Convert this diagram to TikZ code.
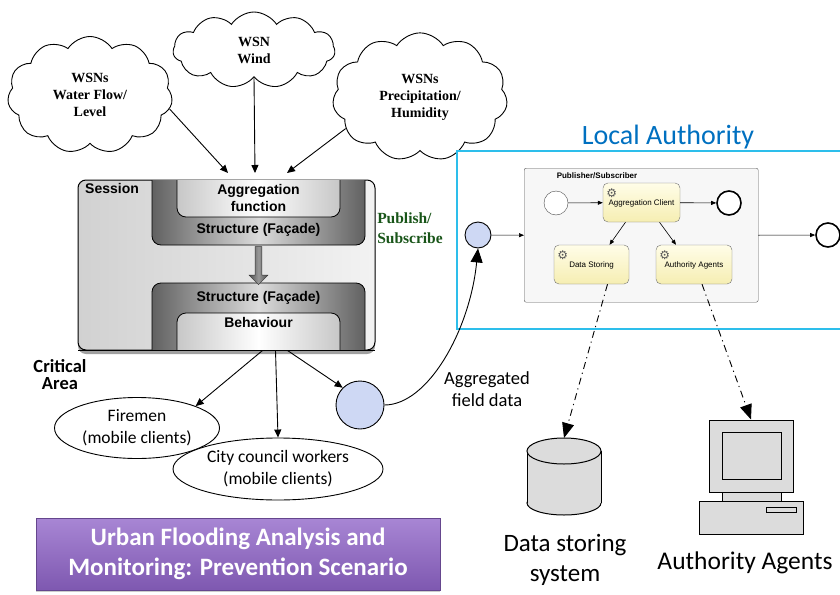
\documentclass[tikz,border=0pt]{standalone}
\usepackage{fontspec}
\setmainfont{Liberation Serif}
\newfontfamily\calibri{Carlito}
\newfontfamily\helv{Liberation Sans}
\newfontfamily\gearfont{DejaVu Sans}
\usetikzlibrary{shapes.symbols,shapes.geometric,shapes.arrows,arrows.meta,shadows}

\definecolor{pubgreen}{RGB}{25,85,25}
\definecolor{authblue}{RGB}{0,112,192}
\definecolor{authline}{RGB}{45,190,235}
\definecolor{dropblue}{RGB}{206,216,244}
\definecolor{tasktop}{RGB}{255,253,232}
\definecolor{taskbot}{RGB}{246,238,178}
\definecolor{purpletop}{RGB}{168,134,212}
\definecolor{purplebot}{RGB}{126,88,176}
\definecolor{pcgray}{RGB}{220,220,220}

\newcommand\taskgear{{\gearfont\symbol{"2699}}}

\begin{document}
\begin{tikzpicture}[x=1pt,y=-1pt,>={Triangle[length=8pt,width=7pt]}]

\tikzset{wsn/.style={cloud,cloud puffs=11,cloud puff arc=115,draw,line width=0.9pt,fill=white,
    inner sep=0pt,align=center,font=\bfseries\fontsize{14}{17}\selectfont}}
\tikzset{session/.style={draw,line width=1pt,rounded corners=8pt,left color=black!18,right color=black!5,
    drop shadow={shadow xshift=0pt,shadow yshift=-4pt,opacity=0.75}}}
\tikzset{struct/.style={draw,line width=0.8pt,left color=black!62,right color=black!62,middle color=black!14}}
\tikzset{inner/.style={draw,line width=0.8pt,left color=black!22,right color=black!22,middle color=white}}
\tikzset{label/.style={font=\helv\bfseries\fontsize{14}{17}\selectfont,align=center,inner sep=0pt}}
\tikzset{client/.style={ellipse,draw,line width=0.9pt,fill=white,align=center,
    font=\calibri\fontsize{17.5}{22}\selectfont}}
\tikzset{msg/.style={circle,draw,line width=0.9pt,fill=dropblue}}
\tikzset{event/.style={circle,draw=black!70,fill=white,minimum size=24pt,inner sep=0pt}}
\tikzset{task/.style={draw=black!55,rounded corners=5pt,top color=tasktop,bottom color=taskbot,
    font=\helv\fontsize{8}{9}\selectfont,inner sep=0pt}}
\tikzset{gear/.style={font=\fontsize{12}{12}\selectfont,text=black!65,inner sep=0pt}}
\tikzset{flow/.style={->,>={Triangle[length=5pt,width=4pt]},line width=0.6pt}}
\tikzset{dashdot/.style={->,>={Triangle[length=15pt,width=12pt]},line width=0.9pt,
    dash pattern=on 7pt off 4pt on 1.2pt off 4pt}}
\tikzset{device/.style={draw,line width=1pt,fill=pcgray,inner sep=0pt}}

\useasboundingbox (0,0) rectangle (840,594);

\node[wsn,minimum width=165pt,minimum height=74pt] (wflow) at (90,95) {WSNs\\Water Flow/\\Level};
\node[wsn,minimum width=162pt,minimum height=76pt] (wind) at (254,50) {WSN\\Wind};
\node[wsn,minimum width=175pt,minimum height=76pt] (precip) at (420,97) {WSNs\\Precipitation/\\Humidity};

\node[session,minimum width=297pt,minimum height=170pt] (session) at (226.5,265) {};
\node[label,anchor=north west] (sesslbl) at (85,183) {Session};

\path[struct] (152,180) [rounded corners=9pt] -- (152,245) -- (365,245) -- (365,180);
\path[inner] (177,180) [rounded corners=9pt] -- (177,217) -- (340,217) -- (340,180);
\path[struct] (152,350) [rounded corners=9pt] -- (152,283) -- (365,283) -- (365,350);
\path[inner] (177,350) [rounded corners=9pt] -- (177,313) -- (340,313) -- (340,350);
\draw[line width=1pt] (78,350) -- (375,350);

\node[label] (aggfun) at (258.5,198) {Aggregation\\function};
\node[label] (facadeA) at (258.5,230) {Structure (Façade)};
\node[label] (facadeB) at (258.5,298) {Structure (Façade)};
\node[label] (behav) at (258.5,322) {Behaviour};
\node[single arrow,rotate=-90,draw=black!80,left color=black!70,right color=black!70,middle color=black!40,
    minimum height=38pt,minimum width=19pt,single arrow head extend=5pt,inner sep=2.5pt] (handover) at (258.5,264) {};

\coordinate (feedL) at (228,173);
\coordinate (feedM) at (255,173);
\coordinate (feedR) at (287,173);
\draw[->,line width=0.9pt] (wflow.-10) -- (feedL);
\draw[->,line width=0.9pt] (wind.south) -- (feedM);
\draw[->,line width=0.9pt] (precip.203) -- (feedR);

\node[font=\bfseries\fontsize{15.5}{20}\selectfont,text=pubgreen,align=left,inner sep=0pt] (pubsublbl) at (410,228) {Publish/\\Subscribe};
\node[font=\calibri\bfseries\fontsize{18.5}{17}\selectfont,align=center,inner sep=0pt] (critical) at (60,375) {Critical\\Area};

\node[client,minimum width=165pt,minimum height=55pt] (firemen) at (137,428) {Firemen\\(mobile clients)};
\node[client,minimum width=210pt,minimum height=62pt] (council) at (278,469) {City council workers\\(mobile clients)};
\node[msg,minimum size=48pt] (fieldOut) at (360,405) {};

\draw[->,line width=0.9pt] ([xshift=36pt]session.south) -- (firemen.north east);
\draw[->,line width=0.9pt] ([xshift=49pt]session.south) -- (council.north);
\draw[->,line width=0.9pt] ([xshift=61pt]session.south) -- (fieldOut.135);

\node[draw=authline,line width=1.5pt,anchor=north west,minimum width=389pt,minimum height=178pt] (authority) at (456,150) {};
\node[font=\calibri\fontsize{28}{28}\selectfont,text=authblue,inner sep=0pt] (authtitle) at (668,137) {Local Authority};

\node[msg,minimum size=26pt] (fieldIn) at (478,235) {};
\draw[line width=0.9pt,-{Triangle[length=14pt,width=12pt]}] (fieldOut.east) .. controls (428,405) and (470,330) .. (fieldIn.south);
\node[font=\calibri\fontsize{18.5}{22}\selectfont,align=center,inner sep=0pt] (aggdata) at (487,389) {Aggregated\\field data};

\node[draw=black!65,fill=black!3,rounded corners=2pt,anchor=north west,minimum width=234pt,minimum height=134pt] (pubsub) at (524,168) {};
\node[font=\helv\bfseries\fontsize{8}{8}\selectfont,inner sep=0pt] (pubsubname) at (597,176) {Publisher/Subscriber};
\node[event] (start) at (556,203) {};
\node[task,minimum width=77pt,minimum height=39pt,text depth=-4pt] (aggclient) at (641.5,202.5) {Aggregation Client};
\node[event,draw=black,line width=1.6pt] (finish) at (729,203) {};
\node[task,minimum width=75pt,minimum height=39pt,text depth=-3pt] (storing) at (591.5,264.5) {Data Storing};
\node[task,minimum width=76pt,minimum height=39pt,text depth=-3pt] (agents) at (694,264.5) {Authority Agents};
\node[gear] (gearA) at ([xshift=9pt,yshift=-10pt]aggclient.north west) {\taskgear};
\node[gear] (gearB) at ([xshift=9pt,yshift=-10pt]storing.north west) {\taskgear};
\node[gear] (gearC) at ([xshift=9pt,yshift=-10pt]agents.north west) {\taskgear};
\node[event,draw=black,line width=1.6pt] (done) at (828,235) {};

\draw[flow] (fieldIn) -- (pubsub.west);
\draw[flow] (start) -- (aggclient);
\draw[flow] (aggclient) -- (finish);
\draw[flow] ([xshift=-16pt]aggclient.south) -- ([xshift=18pt]storing.north);
\draw[flow] ([xshift=18pt]aggclient.south) -- ([xshift=-18pt]agents.north);
\draw[flow] (pubsub.east) -- (done);

% database drum
\draw[device] (564,503) ellipse [x radius=37, y radius=12];
\fill[pcgray] (527,451) rectangle (601,503);
\draw[line width=1pt] (527,451) -- (527,503) (601,451) -- (601,503);
\draw[device] (564,451) ellipse [x radius=37, y radius=13];
\coordinate (dbtop) at (564,438);

% workstation
\node[device,minimum width=104pt,minimum height=33pt] (pcbase) at (751,517.5) {};
\node[device,minimum width=59pt,minimum height=10pt] (pcneck) at (751.5,496.5) {};
\node[device,minimum width=84pt,minimum height=72pt] (monitor) at (751,456) {};
\node[device,minimum width=59pt,minimum height=47pt] (screen) at (751.5,455.5) {};
\node[device,line width=0.8pt,minimum width=30pt,minimum height=5pt] (slot) at (781,509.5) {};

\draw[dashdot] ([xshift=16pt]storing.south) -- (dbtop);
\draw[dashdot] ([xshift=8pt]agents.south) -- (monitor.north);

\node[font=\calibri\fontsize{25}{30}\selectfont,align=center,inner sep=0pt] (dslbl) at (565,560) {Data storing\\system};
\node[font=\calibri\fontsize{25.5}{25.5}\selectfont,inner sep=0pt] (aalbl) at (745,563) {Authority Agents};

\node[top color=purpletop,bottom color=purplebot,draw=purplebot!80!black,line width=0.4pt,
    minimum width=404pt,minimum height=72pt,text=white,align=center,
    drop shadow={shadow xshift=0pt,shadow yshift=-2pt,opacity=0.4},
    font=\calibri\bfseries\fontsize{25}{30}\selectfont] (scenario) at (238,554) {Urban Flooding Analysis and\\Monitoring: Prevention Scenario};

\end{tikzpicture}
\end{document}
